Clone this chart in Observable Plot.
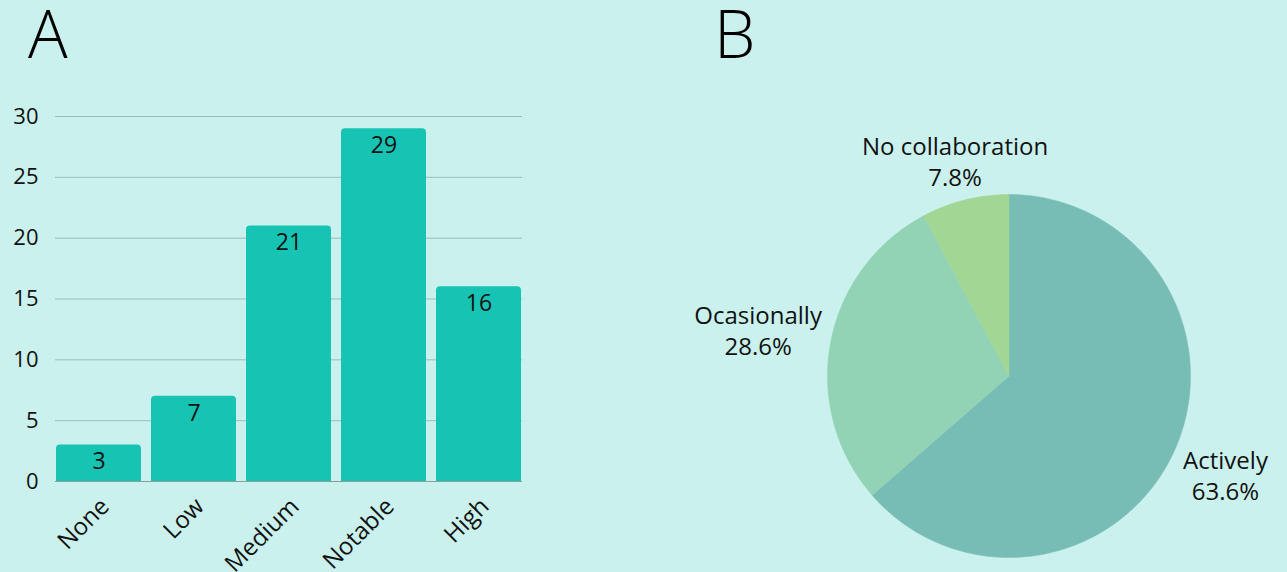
<!DOCTYPE html>
<html>
<head>
<meta charset="utf-8">
<script src="https://cdn.jsdelivr.net/npm/d3@7"></script>
<script src="https://cdn.jsdelivr.net/npm/@observablehq/plot@0.6"></script>
<style>
  html, body { margin: 0; padding: 0; background: #caf1ed; }
  #page { position: relative; width: 1287px; height: 572px; overflow: hidden; background: #caf1ed; font-family: "Open Sans", "Noto Sans", sans-serif; }
  .panel-letter { position: absolute; font-size: 66px; font-weight: 300; color: #000; line-height: 1.4; }
  #bars, #pie { position: absolute; top: 0; }
  #bars { left: 0; }
  #pie { left: 640px; }
</style>
</head>
<body>
<div id="page">
  <div id="bars"></div>
  <div id="pie"></div>
  <div class="panel-letter" style="left:28px; top:-14px;">A</div>
  <div class="panel-letter" style="left:714px; top:-14px;">B</div>
</div>
<script>
// Panel A: level counts
const levels = ["None", "Low", "Medium", "Notable", "High"];
const levelCounts = [3, 7, 21, 29, 16];
const yTicks = [0, 5, 10, 15, 20, 25, 30];

// Panel B: collaboration shares (percent)
const collabLabels = ["Actively", "Ocasionally", "No collaboration"];
const collabShares = [63.6, 28.6, 7.8];
const collabColors = ["#77bdb5", "#93d3b5", "#a1d695"];

const font = `"Open Sans", "Noto Sans", sans-serif`;
const ink = "#111";

const barData = levels.map((level, i) => ({level, count: levelCounts[i]}));

const bars = Plot.plot({
  width: 540,
  height: 572,
  marginLeft: 55,
  marginRight: 18,
  marginTop: 116,
  marginBottom: 91,
  style: {background: "transparent", fontFamily: font, color: ink, overflow: "visible"},
  x: {domain: levels, paddingInner: 0.104, paddingOuter: 0, label: null},
  y: {domain: [0, 30], label: null},
  marks: [
    Plot.gridY(yTicks.filter(t => t > 0), {stroke: "#9dbdb9", strokeOpacity: 1, strokeWidth: 1}),
    Plot.barY(barData, {x: "level", y: "count", fill: "#17c3b2", ry1: 4}),
    Plot.ruleY([0], {stroke: "#8a9e9b", strokeWidth: 1.2}),
    Plot.text(barData, {x: "level", y: "count", text: d => String(d.count), dy: 17, fill: ink, fontSize: 23}),
    Plot.axisY(yTicks, {tickSize: 0, tickPadding: 17, fontSize: 22, fill: ink, label: null}),
    Plot.axisX({tickSize: 0, tickPadding: 21, dx: 6, tickRotate: -45, fontSize: 24, fill: ink, label: null})
  ]
});
document.getElementById("bars").appendChild(bars);

// Pie slices as filled polygons in a unit-circle coordinate space
const total = d3.sum(collabShares);
let acc = 0;
const slices = collabLabels.map((label, i) => {
  const a0 = acc / total * 2 * Math.PI;
  acc += collabShares[i];
  const a1 = acc / total * 2 * Math.PI;
  return {label, share: collabShares[i], color: collabColors[i], a0, a1};
});

function slicePoints(s) {
  const n = Math.max(8, Math.ceil((s.a1 - s.a0) / (Math.PI / 180)));
  const pts = [{x: 0, y: 0}];
  for (let k = 0; k <= n; ++k) {
    const a = s.a0 + (s.a1 - s.a0) * k / n;
    pts.push({x: Math.sin(a), y: Math.cos(a)});
  }
  pts.push({x: 0, y: 0});
  return pts;
}

const R = 181.5;          // pie radius in pixels
const cx = 1008.5 - 640;  // pie centre within the pie svg
const cy = 375.5;
const labelSize = 24;
const lineGap = 1.3;
const labelClearance = 188; // closest distance from pie centre to a label box

// centre each label box on its slice's mid-angle ray, pushed out until
// the box sits labelClearance pixels from the centre
const measure = document.createElement("canvas").getContext("2d");
measure.font = `${labelSize}px ${font}`;
function boxDistance(px, py, hw, hh) {
  const dx = Math.max(0, Math.abs(px) - hw);
  const dy = Math.max(0, Math.abs(py) - hh);
  return Math.hypot(dx, dy);
}
const labels = slices.map(s => {
  const mid = (s.a0 + s.a1) / 2;
  const ux = Math.sin(mid), uy = Math.cos(mid);
  const lines = [s.label, `${s.share.toFixed(1)}%`];
  const hw = d3.max(lines, t => measure.measureText(t).width) / 2;
  const hh = (labelSize * lineGap + labelSize) / 2;
  let lo = 0, hi = 1000;
  for (let k = 0; k < 60; ++k) {
    const t = (lo + hi) / 2;
    if (boxDistance(ux * t, uy * t, hw, hh) < labelClearance) lo = t; else hi = t;
  }
  const t = (lo + hi) / 2;
  return {text: lines.join("\n"), x: ux * t / R, y: uy * t / R};
});

const pie = Plot.plot({
  width: 647,
  height: 572,
  margin: 0,
  style: {background: "transparent", fontFamily: font, overflow: "visible"},
  x: {domain: [-1, 1], range: [cx - R, cx + R], axis: null},
  y: {domain: [-1, 1], range: [cy + R, cy - R], axis: null},
  marks: [
    ...slices.map(s => Plot.line(slicePoints(s), {x: "x", y: "y", fill: s.color, stroke: s.color, strokeWidth: 0.5, curve: "linear"})),
    Plot.text(labels, {x: "x", y: "y", text: "text", fontSize: labelSize, lineHeight: lineGap, fill: ink})
  ]
});
document.getElementById("pie").appendChild(pie);
</script>
</body>
</html>
